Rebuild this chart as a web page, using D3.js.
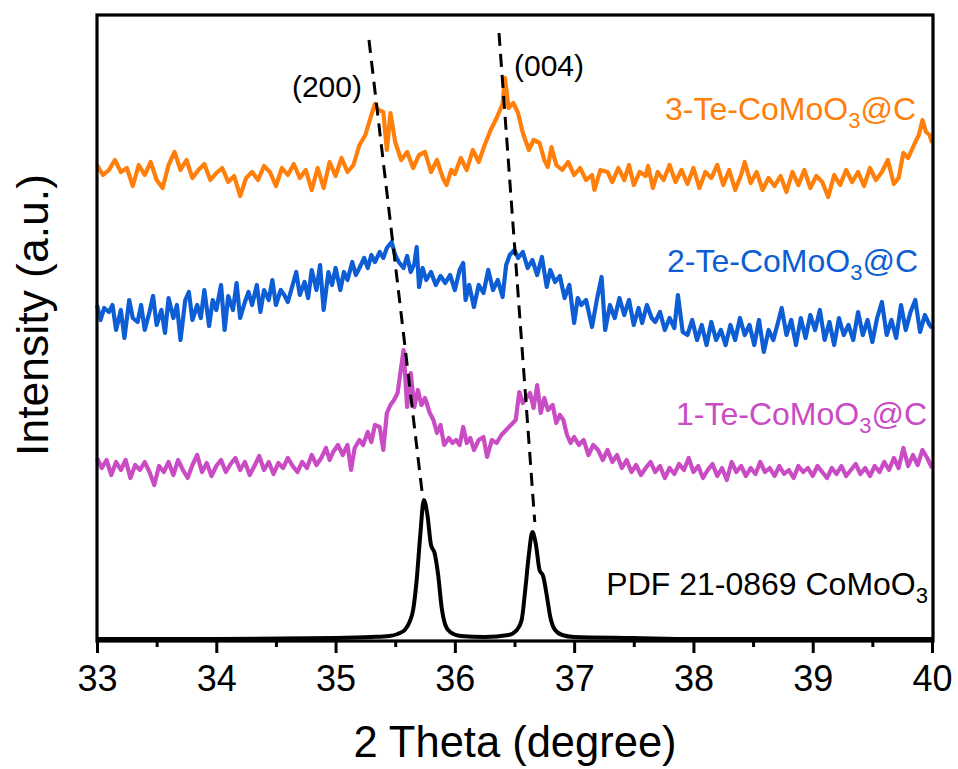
<!DOCTYPE html>
<html><head><meta charset="utf-8">
<script src="https://cdn.jsdelivr.net/npm/d3@7/dist/d3.min.js"></script>
<style>body{margin:0;background:#fff}svg{display:block;font-family:"Liberation Sans",Arial,sans-serif}</style>
</head><body><svg id="c" width="958" height="769"></svg>
<script>
// x: 2θ (degree), y: intensity (a.u.)
const xTicks=[33,34,35,36,37,38,39,40];
const xMinor=[33.5,34.5,35.5,36.5,37.5,38.5,39.5];
const seriesNames=["3-Te-CoMoO","2-Te-CoMoO","1-Te-CoMoO","PDF 21-0869 CoMoO"];
const te3=[[33.00,476],[33.05,466],[33.10,471],[33.15,481],[33.20,469],[33.25,473],[33.30,455],[33.35,476],[33.40,466],[33.45,479],[33.50,461],[33.55,453],[33.60,476],[33.65,489],[33.70,471],[33.75,481],[33.80,463],[33.85,471],[33.90,477],[33.95,461],[34.00,468],[34.05,473],[34.10,459],[34.15,465],[34.20,445],[34.25,463],[34.30,469],[34.35,461],[34.40,475],[34.45,469],[34.50,455],[34.55,473],[34.60,466],[34.65,477],[34.70,463],[34.75,471],[34.80,451],[34.85,473],[34.90,453],[34.95,479],[35.00,465],[35.05,483],[35.10,469],[35.15,476],[35.20,496],[35.25,506],[35.30,526],[35.33,537],[35.36,531],[35.40,529],[35.43,491],[35.46,528],[35.50,499],[35.55,481],[35.60,489],[35.65,473],[35.70,486],[35.75,489],[35.80,469],[35.85,481],[35.90,463],[35.93,456],[35.97,471],[36.00,467],[36.05,483],[36.10,471],[36.15,491],[36.20,479],[36.25,496],[36.30,511],[36.35,523],[36.40,537],[36.42,563],[36.45,533],[36.49,538],[36.53,528],[36.57,508],[36.62,491],[36.66,501],[36.71,498],[36.75,481],[36.78,474],[36.81,494],[36.85,476],[36.90,471],[36.95,479],[37.00,466],[37.05,473],[37.10,461],[37.15,466],[37.17,451],[37.22,471],[37.28,469],[37.32,459],[37.37,473],[37.42,461],[37.46,476],[37.50,456],[37.55,469],[37.60,465],[37.62,475],[37.66,453],[37.70,469],[37.75,461],[37.80,476],[37.85,459],[37.90,471],[37.95,457],[38.00,473],[38.05,453],[38.10,469],[38.15,463],[38.20,476],[38.25,456],[38.30,471],[38.35,451],[38.40,466],[38.43,479],[38.48,458],[38.53,469],[38.58,451],[38.63,463],[38.68,455],[38.73,465],[38.78,449],[38.83,469],[38.88,456],[38.93,471],[38.98,453],[39.03,465],[39.08,459],[39.13,444],[39.18,466],[39.23,456],[39.28,471],[39.33,459],[39.38,469],[39.43,455],[39.48,473],[39.53,461],[39.58,469],[39.63,481],[39.68,457],[39.72,463],[39.76,488],[39.80,483],[39.83,491],[39.86,499],[39.89,506],[39.92,521],[39.95,509],[39.98,506],[40.00,498]];
const te2=[[33.00,336],[33.03,321],[33.06,333],[33.10,329],[33.13,336],[33.16,311],[33.20,331],[33.23,303],[33.27,341],[33.30,323],[33.34,319],[33.37,336],[33.40,311],[33.44,329],[33.47,345],[33.50,316],[33.54,331],[33.57,308],[33.60,343],[33.64,323],[33.67,336],[33.70,301],[33.74,341],[33.77,349],[33.80,321],[33.84,336],[33.87,323],[33.90,351],[33.94,315],[33.97,341],[34.00,331],[34.04,356],[34.07,311],[34.10,345],[34.14,331],[34.17,358],[34.20,323],[34.24,339],[34.27,349],[34.30,336],[34.34,356],[34.37,329],[34.40,351],[34.44,341],[34.47,361],[34.50,336],[34.54,351],[34.57,346],[34.60,339],[34.64,356],[34.67,369],[34.70,346],[34.74,359],[34.77,343],[34.80,371],[34.84,351],[34.87,376],[34.90,331],[34.94,369],[34.97,356],[35.00,373],[35.04,351],[35.07,369],[35.10,361],[35.14,379],[35.17,366],[35.20,373],[35.24,383],[35.27,373],[35.30,386],[35.33,379],[35.37,389],[35.40,383],[35.43,393],[35.47,399],[35.50,386],[35.53,379],[35.57,373],[35.60,385],[35.63,369],[35.66,377],[35.68,394],[35.70,354],[35.73,373],[35.76,361],[35.80,369],[35.84,356],[35.88,365],[35.92,358],[35.96,366],[36.00,351],[36.04,371],[36.07,378],[36.09,341],[36.12,356],[36.16,334],[36.20,356],[36.24,348],[36.28,371],[36.32,351],[36.36,361],[36.40,344],[36.43,376],[36.46,386],[36.50,391],[36.53,383],[36.57,389],[36.61,373],[36.65,381],[36.69,366],[36.73,384],[36.77,354],[36.80,371],[36.84,359],[36.88,365],[36.92,343],[36.96,356],[37.00,318],[37.03,343],[37.06,336],[37.10,341],[37.15,314],[37.19,341],[37.23,364],[37.26,311],[37.30,336],[37.34,323],[37.38,343],[37.42,326],[37.46,341],[37.50,316],[37.54,333],[37.57,318],[37.61,336],[37.65,323],[37.68,319],[37.72,329],[37.76,311],[37.80,323],[37.84,313],[37.87,346],[37.91,309],[37.95,306],[37.99,321],[38.03,301],[38.07,316],[38.11,296],[38.15,319],[38.19,301],[38.23,311],[38.27,296],[38.31,316],[38.35,301],[38.39,323],[38.43,306],[38.47,316],[38.51,296],[38.55,321],[38.59,289],[38.63,311],[38.67,301],[38.71,319],[38.74,333],[38.78,306],[38.82,321],[38.86,296],[38.90,323],[38.94,303],[38.98,326],[39.02,311],[39.06,331],[39.10,301],[39.14,319],[39.18,296],[39.22,323],[39.26,306],[39.30,316],[39.34,301],[39.38,329],[39.42,306],[39.46,321],[39.50,299],[39.54,323],[39.58,339],[39.62,306],[39.66,321],[39.70,303],[39.74,336],[39.78,311],[39.82,329],[39.86,341],[39.90,309],[39.94,326],[39.98,316],[40.00,313]];
const te1=[[33.00,183],[33.04,173],[33.08,181],[33.12,166],[33.16,179],[33.20,171],[33.24,181],[33.28,163],[33.32,176],[33.36,171],[33.40,179],[33.44,169],[33.48,156],[33.52,175],[33.56,169],[33.60,179],[33.64,166],[33.68,181],[33.72,171],[33.76,163],[33.80,176],[33.84,186],[33.88,169],[33.92,178],[33.96,165],[34.00,175],[34.04,181],[34.08,169],[34.12,177],[34.16,183],[34.20,171],[34.24,179],[34.28,166],[34.32,175],[34.36,185],[34.40,171],[34.44,179],[34.48,167],[34.52,178],[34.56,173],[34.60,183],[34.64,175],[34.68,169],[34.72,179],[34.76,173],[34.80,186],[34.84,176],[34.88,183],[34.92,193],[34.95,181],[34.98,189],[35.02,196],[35.06,186],[35.10,196],[35.13,171],[35.16,193],[35.20,201],[35.23,196],[35.27,209],[35.30,199],[35.33,216],[35.37,214],[35.40,191],[35.43,228],[35.46,236],[35.49,241],[35.52,248],[35.55,274],[35.57,291],[35.60,234],[35.63,268],[35.66,234],[35.69,251],[35.72,236],[35.75,243],[35.79,228],[35.82,221],[35.85,208],[35.88,216],[35.91,196],[35.95,203],[35.98,198],[36.01,201],[36.04,196],[36.07,214],[36.10,198],[36.13,203],[36.16,191],[36.20,201],[36.24,204],[36.27,184],[36.31,201],[36.35,198],[36.39,206],[36.43,211],[36.47,216],[36.51,221],[36.54,249],[36.57,238],[36.60,243],[36.63,248],[36.66,233],[36.69,256],[36.72,228],[36.75,243],[36.78,231],[36.82,236],[36.85,218],[36.88,226],[36.91,221],[36.94,206],[36.97,198],[37.00,204],[37.04,196],[37.08,201],[37.12,186],[37.16,196],[37.20,191],[37.24,181],[37.28,191],[37.32,179],[37.36,186],[37.40,173],[37.44,181],[37.48,169],[37.52,176],[37.56,166],[37.60,173],[37.64,179],[37.68,169],[37.72,175],[37.76,163],[37.80,173],[37.84,167],[37.88,177],[37.92,171],[37.96,183],[38.00,169],[38.04,175],[38.08,163],[38.12,171],[38.16,177],[38.20,165],[38.24,173],[38.28,161],[38.32,179],[38.36,169],[38.40,175],[38.44,165],[38.48,173],[38.52,167],[38.56,179],[38.60,169],[38.64,173],[38.68,165],[38.72,175],[38.76,167],[38.80,171],[38.84,163],[38.88,175],[38.92,169],[38.96,173],[39.00,165],[39.04,175],[39.08,169],[39.12,163],[39.16,173],[39.20,167],[39.24,175],[39.28,165],[39.32,171],[39.36,177],[39.40,167],[39.44,173],[39.48,165],[39.52,175],[39.56,169],[39.60,179],[39.64,171],[39.68,183],[39.72,173],[39.76,193],[39.80,175],[39.84,186],[39.88,176],[39.92,191],[39.96,183],[40.00,173]];
const pdf=[[33.0,2],[34.0,2],[35.0,3],[35.3,4],[35.45,5],[35.52,7],[35.58,11],[35.62,19],[35.65,31],[35.68,61],[35.71,106],[35.74,141],[35.77,126],[35.80,96],[35.83,88],[35.86,66],[35.89,33],[35.92,16],[35.96,9],[36.05,5],[36.25,4],[36.45,6],[36.52,11],[36.56,21],[36.59,51],[36.62,86],[36.65,109],[36.68,96],[36.71,71],[36.74,65],[36.77,46],[36.80,24],[36.84,11],[36.90,6],[37.0,4],[37.5,3],[38.0,2],[40.0,2]];
const guide200=[[35.28,601],[35.73,144]];
const guide004=[[36.37,608],[36.67,119]];
const peakLabels=["(200)","(004)"];

const svg=d3.select("#c");
const L=97,R=933,T=15,B=641;
const x=d3.scaleLinear().domain([33,40]).range([L,932]);
const y=d3.scaleLinear().domain([0,626]).range([B,T]);
const line=d3.line().x(d=>x(d[0])).y(d=>y(d[1]));

// traces
const traces=[{d:te3,c:"#FF7F0A"},{d:te2,c:"#0D5DD4"},{d:te1,c:"#C94CC4"}];
traces.forEach(t=>svg.append("path").attr("d",line(t.d)).attr("fill","none").attr("stroke",t.c).attr("stroke-width",4.2).attr("stroke-linejoin","round"));
svg.append("path").attr("d",line.curve(d3.curveMonotoneX)(pdf)).attr("fill","none").attr("stroke","#000").attr("stroke-width",4);
line.curve(d3.curveLinear);
[guide200,guide004].forEach(g=>svg.append("path").attr("d",line(g)).attr("fill","none").attr("stroke","#000").attr("stroke-width",3).attr("stroke-dasharray","13,8"));

// frame
svg.append("rect").attr("x",L).attr("y",T).attr("width",R-L).attr("height",B-T).attr("fill","none").attr("stroke","#000").attr("stroke-width",3.2);

// x axis
const ax=svg.append("g").attr("transform",`translate(0,${B})`).call(d3.axisBottom(x).tickValues(xTicks).tickSize(12).tickPadding(12).tickFormat(d3.format("d")));
ax.select(".domain").remove();
ax.selectAll(".tick line").attr("stroke-width",3);
ax.selectAll("text").attr("font-size",36).attr("font-family","Liberation Sans, Arial, sans-serif").attr("fill","#000");
svg.append("g").attr("transform",`translate(0,${B})`).call(d3.axisBottom(x).tickValues(xMinor).tickSize(6).tickFormat(""))
  .call(g=>{g.select(".domain").remove();g.selectAll("line").attr("stroke-width",3);});

svg.append("text").attr("x",515).attr("y",757).attr("text-anchor","middle").attr("font-size",43.5).text("2 Theta (degree)");
svg.append("text").attr("transform","translate(48,315) rotate(-90)").attr("text-anchor","middle").attr("font-size",44.5).text("Intensity (a.u.)");

// peak labels
svg.append("text").attr("x",x(35.28)-7).attr("y",97).attr("text-anchor","end").attr("font-size",30).text(peakLabels[0]);
svg.append("text").attr("x",x(36.37)+15).attr("y",76).attr("font-size",30).text(peakLabels[1]);

// series labels
function lab(name,suffix,xr,yb,col){
  const t=svg.append("text").attr("x",xr).attr("y",yb).attr("text-anchor","end").attr("font-size",32).attr("fill",col);
  t.append("tspan").text(name);
  t.append("tspan").attr("font-size",22).attr("dy",8).text("3");
  if(suffix) t.append("tspan").attr("dy",-8).text(suffix);
}
lab(seriesNames[0],"@C",916,120,"#FF7F0A");
lab(seriesNames[1],"@C",918,272,"#0D5DD4");
lab(seriesNames[2],"@C",927,425,"#C94CC4");
lab(seriesNames[3],"",928,595,"#000");
</script></body></html>
